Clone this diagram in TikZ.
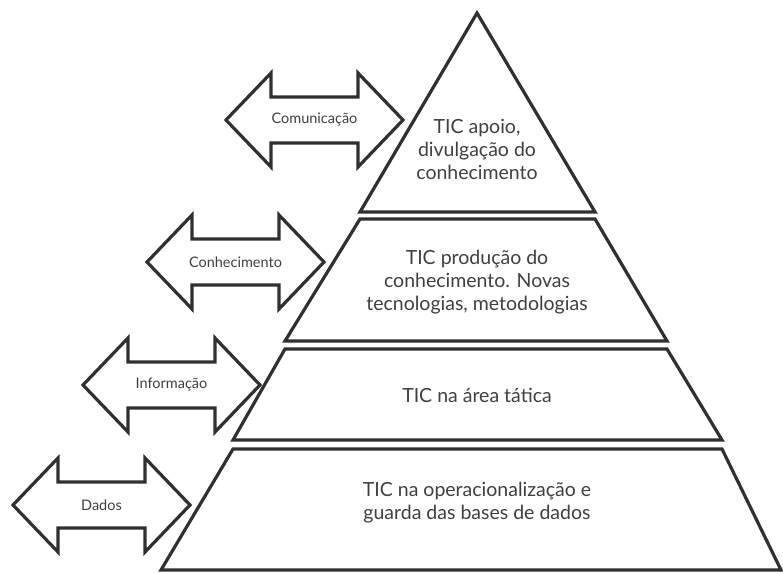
\documentclass[tikz,border=0pt]{standalone}
\usepackage{fontspec}
\setmainfont{Lato}
\definecolor{linec}{HTML}{303030}
\definecolor{textc}{HTML}{404040}
\begin{document}
\begin{tikzpicture}[x=1pt,y=-1pt,
  shapeline/.style={draw=linec,line width=3.2pt,line join=miter,fill=white},
  bigtext/.style={text=textc,font=\fontsize{19.5}{23}\selectfont,align=center},
  smalltext/.style={text=textc,font=\fontsize{14.5}{16}\selectfont}]
\useasboundingbox (0,0) rectangle (783,573);
% pyramid
\draw[shapeline] (477,13) -- (595,212) -- (360,212) -- cycle;
\draw[shapeline] (360,219) -- (595,219) -- (667,341) -- (285,341) -- cycle;
\draw[shapeline] (285,349) -- (667,349) -- (722,440) -- (233,440) -- cycle;
\draw[shapeline] (233,449) -- (722,449) -- (781,570) -- (161,570) -- cycle;
\node[bigtext] (t1) at (477,149) {TIC apoio,\\divulgação do\\conhecimento};
\node[bigtext] (t2) at (477,282) {TIC produção do\\conhecimento. Novas\\tecnologias, metodologias};
\node[bigtext] (t3) at (477,395) {TIC na área tática};
\node[bigtext] (t4) at (477,503) {TIC na operacionalização e\\guarda das bases de dados};
% double arrows
\foreach \L/\C/\nm/\txt in {226/120/a1/Comunicação,147/262/a2/Conhecimento,83/385/a3/Informação,13/505/a4/Dados}{
  \draw[shapeline] (\L,\C) -- (\L+45,\C-47) -- (\L+45,\C-23) -- (\L+132,\C-23) -- (\L+132,\C-47)
    -- (\L+177,\C) -- (\L+132,\C+47) -- (\L+132,\C+23) -- (\L+45,\C+23) -- (\L+45,\C+47) -- cycle;
  \node[smalltext] (\nm) at (\L+88.5,\C) {\txt};
}
\end{tikzpicture}
\end{document}
